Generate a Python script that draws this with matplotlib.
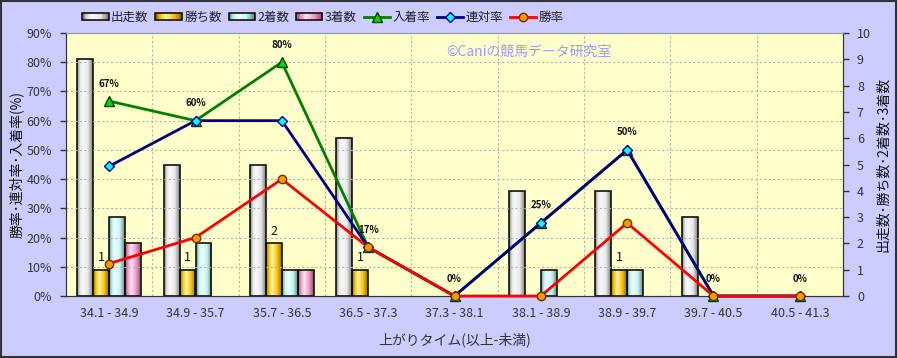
import numpy as np
import matplotlib
matplotlib.use("Agg")
import matplotlib.pyplot as plt
from matplotlib.patches import Rectangle, Patch
from matplotlib.legend_handler import HandlerBase
from matplotlib.ticker import FuncFormatter
from matplotlib.colors import to_rgb

plt.rcParams['font.family'] = ['Noto Sans CJK JP', 'DejaVu Sans']

categories = ["34.1 - 34.9", "34.9 - 35.7", "35.7 - 36.5", "36.5 - 37.3", "37.3 - 38.1",
              "38.1 - 38.9", "38.9 - 39.7", "39.7 - 40.5", "40.5 - 41.3"]
starts = [9, 5, 5, 6, 0, 4, 4, 3, 0]
wins = [1, 1, 2, 1, 0, 0, 1, 0, 0]
seconds = [3, 2, 1, 0, 0, 1, 1, 0, 0]
thirds = [2, 0, 1, 0, 0, 0, 0, 0, 0]
place_rate = [0.667, 0.60, 0.80, 0.167, 0.0, 0.25, 0.50, 0.0, 0.0]
quinella_rate = [0.444, 0.60, 0.60, 0.167, 0.0, 0.25, 0.50, 0.0, 0.0]
win_rate = [0.111, 0.20, 0.40, 0.167, 0.0, 0.0, 0.25, 0.0, 0.0]

bar_series = [("出走数", starts, "#E8E8E8"), ("勝ち数", wins, "#FFC800"),
              ("2着数", seconds, "#C4F4F4"), ("3着数", thirds, "#F49AC8")]

W, H = 898, 358
fig = plt.figure(figsize=(W / 100, H / 100), dpi=100)
fig.patch.set_facecolor("#CCCCFF")
fig.patches.append(Rectangle((0.001, 0.002), 0.997, 0.995, transform=fig.transFigure,
                             fill=False, edgecolor="#333333", linewidth=1.5))

L, R, T, B = 66, 843, 33, 296
ax = fig.add_axes([L / W, 1 - B / H, (R - L) / W, (B - T) / H])
ax.set_facecolor("#FFFFCC")
ax2 = ax.twinx()

n = len(categories)
x = np.arange(n)
bw = 0.185

def gradient_cols(color, m=64):
    c = np.array(to_rgb(color))
    t = np.linspace(0, 1, m)
    light = np.where(t < 0.38, t / 0.38, 1 - (t - 0.38) / 0.62)
    light = np.clip(light, 0, 1)
    dark = c * 0.55
    bright = c + (1 - c) * 0.75
    mid = light[:, None]
    return np.where(mid < 0.5, dark + (c - dark) * (mid / 0.5),
                    c + (bright - c) * ((mid - 0.5) / 0.5))

for k, (name, vals, col) in enumerate(bar_series):
    offs = (k - 1.5) * bw
    bars = ax.bar(x + offs, vals, width=bw, facecolor="none", edgecolor="#111111",
                  linewidth=1.2, zorder=3)
    img = gradient_cols(col)[None, :, :]
    for b, v in zip(bars, vals):
        if v <= 0:
            b.set_visible(False)
            continue
        im = ax.imshow(img, extent=[b.get_x(), b.get_x() + b.get_width(), 0, v],
                       aspect="auto", zorder=2, interpolation="bilinear")
        im.set_clip_path(b)

for i, w in enumerate(wins):
    if w > 0:
        ax.annotate(str(w), (x[i] - 0.5 * bw, w), xytext=(0, 4), textcoords="offset points",
                    ha="center", va="bottom", fontsize=9, color="#111111", zorder=6)

ax.set_xlim(-0.5, n - 0.5)
ax.set_ylim(0, 10)
ax.set_yticks(range(0, 11))
ax.yaxis.tick_right()
ax.yaxis.set_label_position("right")
ax.set_ylabel("出走数･勝ち数･2着数･3着数", fontsize=10, rotation=90, labelpad=4, color="#111111")

ax2.set_ylim(0, 0.9)
ax2.set_yticks(np.arange(0, 0.91, 0.1))
ax2.yaxis.set_major_formatter(FuncFormatter(lambda v, p: f"{v * 100:.0f}%"))
ax2.yaxis.tick_left()
ax2.yaxis.set_label_position("left")
ax2.set_ylabel("勝率･連対率･入着率(%)", fontsize=10, labelpad=2, color="#111111")

for a in (ax, ax2):
    a.tick_params(axis="y", direction="out", length=4, width=1, colors="#333333",
                  labelsize=9, labelcolor="#333333", pad=6)
    for s in a.spines.values():
        s.set_color("#333333")
    a.spines["top"].set_color("#999999")

ax.set_xticks(x)
ax.set_xticklabels(categories)
ax.tick_params(axis="x", length=0, labelsize=9, labelcolor="#333333", pad=8)
ax.set_xlabel("上がりタイム(以上-未満)", fontsize=10, color="#333333", labelpad=9)

for y in np.arange(0.1, 0.9, 0.1):
    ax2.axhline(y, color="#B4B4A8", linestyle=(0, (2, 2)), linewidth=0.8, zorder=0)
for xb in np.arange(0.5, n - 0.5, 1):
    ax.axvline(xb, color="#B4B4A8", linestyle=(0, (2, 2)), linewidth=0.8, zorder=1)

l1, = ax2.plot(x, place_rate, color="#008000", linewidth=2, marker="^", markersize=7,
               markerfacecolor="#00DD00", markeredgecolor="#004000", zorder=4, clip_on=False)
l2, = ax2.plot(x, quinella_rate, color="#000080", linewidth=2, marker="D", markersize=5,
               markerfacecolor="#00FFFF", markeredgecolor="#000080", zorder=5, clip_on=False)
l3, = ax2.plot(x, win_rate, color="#FF0000", linewidth=2, marker="o", markersize=6,
               markerfacecolor="#FF9900", markeredgecolor="#663300", zorder=6, clip_on=False)

for i, v in enumerate(place_rate):
    ax2.annotate(f"{v * 100:.0f}%", (x[i], v), xytext=(0, 9), textcoords="offset points",
                 ha="center", va="bottom", fontsize=7, fontweight="bold", color="#111111", zorder=7)

ax2.text(0.49, 0.93, "©Caniの競馬データ研究室", transform=ax2.transAxes, fontsize=10,
         color="#9999FF", ha="left", va="center", zorder=7)


class GradientPatchHandler(HandlerBase):
    def create_artists(self, legend, orig_handle, xdescent, ydescent, width, height,
                       fontsize, trans):
        cols = gradient_cols(orig_handle.get_facecolor(), m=20)
        arts = []
        m = len(cols)
        for j, c in enumerate(cols):
            r = Rectangle((-xdescent + width * j / m, -ydescent), width / m + 0.3, height,
                          facecolor=c, edgecolor="none", transform=trans)
            arts.append(r)
        arts.append(Rectangle((-xdescent, -ydescent), width, height, facecolor="none",
                              edgecolor="#111111", linewidth=1.2, transform=trans))
        return arts


handles = [Patch(facecolor=c, edgecolor="#111111", linewidth=1.2) for _, _, c in bar_series]
handles += [l1, l2, l3]
labels = [s[0] for s in bar_series] + ["入着率", "連対率", "勝率"]
hmap = {h: GradientPatchHandler() for h in handles[:4]}
fig.legend(handles, labels, loc="center", bbox_to_anchor=(323 / W, 1 - 17 / H), ncol=7,
           frameon=False, fontsize=9, handlelength=2.1, handleheight=0.5, handletextpad=0.2,
           columnspacing=0.55, labelcolor="#222222", handler_map=hmap)

fig.savefig("out.png", dpi=100, facecolor=fig.get_facecolor())
